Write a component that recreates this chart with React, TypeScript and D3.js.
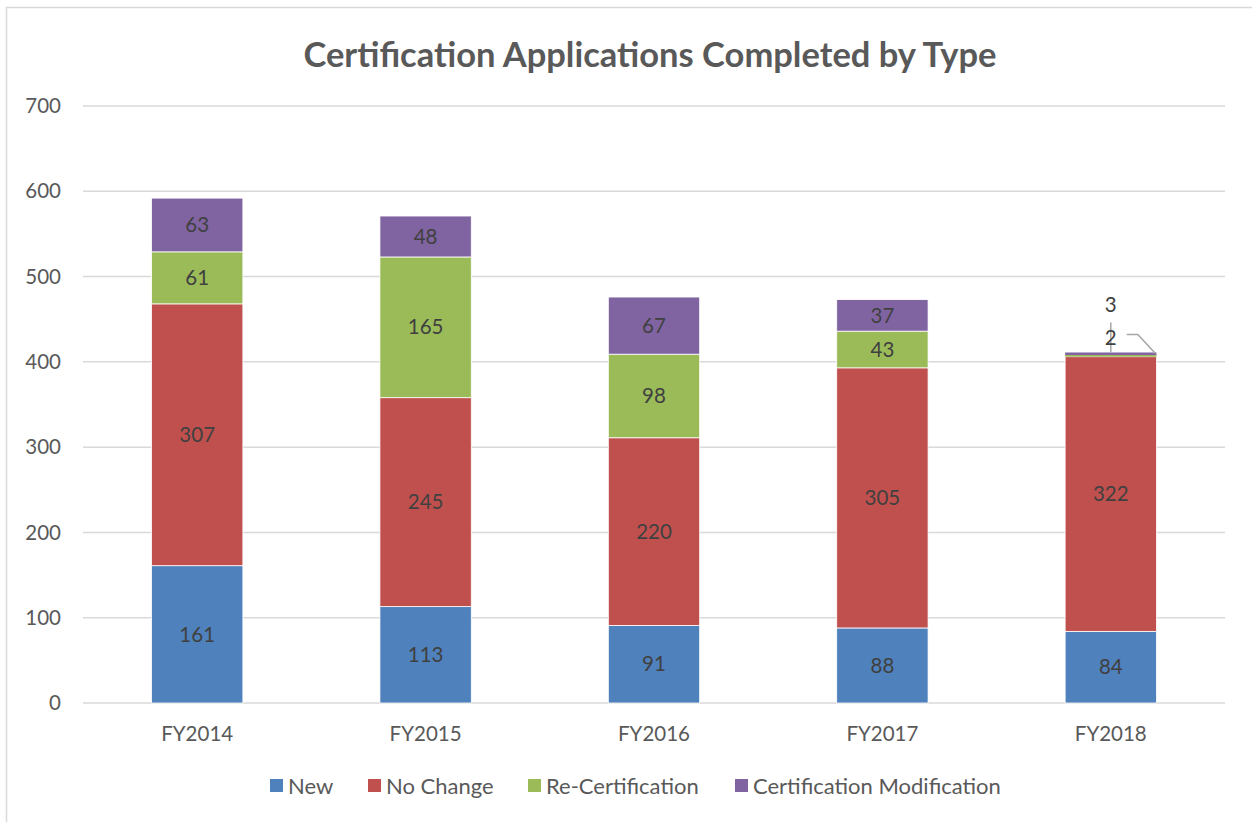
import React, { useEffect, useRef } from 'react';
import * as d3 from 'd3';

const years = ['FY2014', 'FY2015', 'FY2016', 'FY2017', 'FY2018'];
const seriesNames = ['New', 'No Change', 'Re-Certification', 'Certification Modification'];
const newApps = [161, 113, 91, 88, 84];
const noChange = [307, 245, 220, 305, 322];
const reCert = [61, 165, 98, 43, 2];
const certMod = [63, 48, 67, 37, 3];
const yTicks = [0, 100, 200, 300, 400, 500, 600, 700];

const colors = ['#4F81BD', '#C0504D', '#9BBB59', '#8064A2'];
const FONT = 'Lato, "Open Sans", sans-serif';

type Row = { year: string; [k: string]: number | string };

export default function App() {
  const svgRef = useRef<SVGSVGElement>(null);
  const width = 1252;
  const height = 822;

  useEffect(() => {
    if (!svgRef.current) return;
    const svg = d3.select(svgRef.current);
    svg.selectAll('*').remove();

    const margin = { top: 106, right: 27, bottom: 119, left: 83 };
    const innerWidth = width - margin.left - margin.right;
    const innerHeight = height - margin.top - margin.bottom;

    // outer chart border
    svg.append('rect')
      .attr('x', 6.5).attr('y', 7.5)
      .attr('width', width + 20).attr('height', height + 20)
      .attr('fill', 'white').attr('stroke', '#d9d9d9').attr('stroke-width', 1.5);

    svg.append('text')
      .attr('x', 650).attr('y', 67)
      .attr('text-anchor', 'middle')
      .attr('font-family', FONT).attr('font-weight', 'bold')
      .attr('font-size', '34.5px').attr('fill', '#595959')
      .text('Certification Applications Completed by Type');

    const g = svg.append('g').attr('transform', `translate(${margin.left},${margin.top})`);

    const rows: Row[] = years.map((y, i) => ({
      year: y,
      [seriesNames[0]]: newApps[i],
      [seriesNames[1]]: noChange[i],
      [seriesNames[2]]: reCert[i],
      [seriesNames[3]]: certMod[i],
    }));

    const x = d3.scaleBand().domain(years).range([0, innerWidth]).paddingInner(0.6).paddingOuter(0.3);
    const y = d3.scaleLinear().domain([0, 700]).range([innerHeight, 0]);

    // gridlines
    g.selectAll('line.grid')
      .data(yTicks)
      .join('line')
      .attr('class', 'grid')
      .attr('x1', 0).attr('x2', innerWidth)
      .attr('y1', d => y(d)).attr('y2', d => y(d))
      .attr('stroke', '#d9d9d9').attr('stroke-width', 1.5);

    // y labels
    g.selectAll('text.ytick')
      .data(yTicks)
      .join('text')
      .attr('class', 'ytick')
      .attr('x', -22).attr('y', d => y(d)).attr('dy', '0.35em')
      .attr('text-anchor', 'end')
      .attr('font-family', FONT).attr('font-size', '20.5px').attr('fill', '#595959')
      .text(d => d);

    // x labels
    g.selectAll('text.xtick')
      .data(years)
      .join('text')
      .attr('class', 'xtick')
      .attr('x', d => (x(d) as number) + x.bandwidth() / 2)
      .attr('y', innerHeight + 38)
      .attr('text-anchor', 'middle')
      .attr('font-family', FONT).attr('font-size', '20.5px').attr('fill', '#595959')
      .text(d => d);

    const stack = d3.stack<Row>().keys(seriesNames).value((d, k) => d[k] as number);
    const layers = stack(rows);

    const layerG = g.selectAll('g.layer')
      .data(layers)
      .join('g')
      .attr('class', 'layer')
      .attr('fill', (_, i) => colors[i]);

    layerG.selectAll('rect')
      .data(d => d)
      .join('rect')
      .attr('x', d => x(d.data.year) as number)
      .attr('width', x.bandwidth())
      .attr('y', d => y(d[1]))
      .attr('height', d => y(d[0]) - y(d[1]))
      .attr('stroke', d => (d[1] - d[0] >= 10 ? 'white' : 'none'))
      .attr('stroke-width', 0.8);

    // data labels (skip tiny segments, handled below)
    layerG.selectAll('text')
      .data(d => d.filter(s => s[1] - s[0] >= 10))
      .join('text')
      .attr('x', d => (x(d.data.year) as number) + x.bandwidth() / 2)
      .attr('y', d => y((d[0] + d[1]) / 2)).attr('dy', '0.35em')
      .attr('text-anchor', 'middle')
      .attr('font-family', FONT).attr('font-size', '20.5px').attr('fill', '#404040')
      .text(d => d[1] - d[0]);

    // callout labels for the tiny FY2018 segments
    const last = years.length - 1;
    const cx = (x(years[last]) as number) + x.bandwidth() / 2;
    const topY = y(newApps[last] + noChange[last] + reCert[last] + certMod[last]);
    const right = (x(years[last]) as number) + x.bandwidth();

    g.append('text')
      .attr('x', cx).attr('y', topY - 48).attr('dy', '0.35em')
      .attr('text-anchor', 'middle')
      .attr('font-family', FONT).attr('font-size', '20.5px').attr('fill', '#404040')
      .text(certMod[last]);
    g.append('line')
      .attr('x1', cx).attr('x2', cx)
      .attr('y1', topY - 30).attr('y2', topY)
      .attr('stroke', '#a6a6a6').attr('stroke-width', 1.5);

    g.append('text')
      .attr('x', cx).attr('y', topY - 15).attr('dy', '0.35em')
      .attr('text-anchor', 'middle')
      .attr('font-family', FONT).attr('font-size', '20.5px').attr('fill', '#404040')
      .text(reCert[last]);
    g.append('polyline')
      .attr('points', `${cx + 16},${topY - 18} ${cx + 27},${topY - 18} ${right - 1},${topY + 1}`)
      .attr('fill', 'none')
      .attr('stroke', '#a6a6a6').attr('stroke-width', 1.5);

    // legend
    const legendX = [270, 368, 528, 735];
    const legend = svg.append('g').attr('transform', 'translate(0, 786)');
    seriesNames.forEach((name, i) => {
      const item = legend.append('g').attr('transform', `translate(${legendX[i]},0)`);
      item.append('rect')
        .attr('x', 0).attr('y', -7)
        .attr('width', 13).attr('height', 13)
        .attr('fill', colors[i]);
      item.append('text')
        .attr('x', 18).attr('y', 0).attr('dy', '0.35em')
        .attr('font-family', FONT).attr('font-size', '22px').attr('fill', '#595959')
        .text(name);
    });
  }, []);

  return (
    <div style={{ position: 'absolute', left: 0, top: 0 }}>
      <svg ref={svgRef} width={width} height={height} style={{ display: 'block', background: 'white' }} />
    </div>
  );
}
